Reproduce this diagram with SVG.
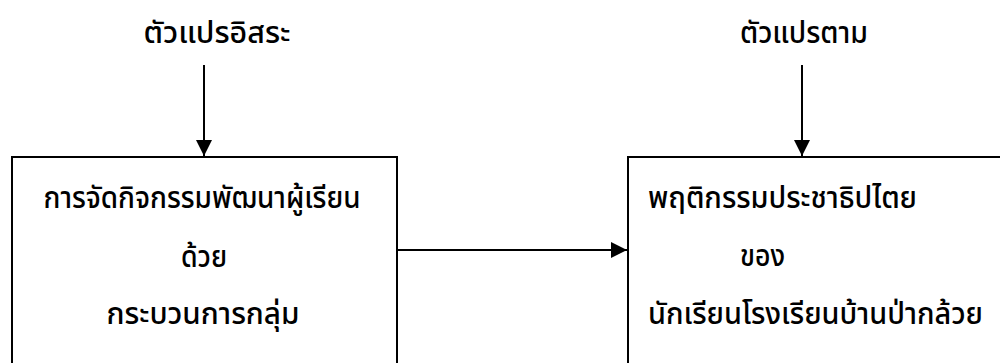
<svg xmlns="http://www.w3.org/2000/svg" width="1000" height="363" viewBox="0 0 1000 363">
<style>
.t{font-family:"Noto Sans Thai","Noto Sans","DejaVu Sans",sans-serif;font-size:30px;font-weight:500;fill:#000}
.box{fill:none;stroke:#000;stroke-width:2}
.con{stroke:#000;stroke-width:2;fill:none}
</style>
<defs>
<marker id="ah" viewBox="0 0 10 10" refX="10" refY="5" markerWidth="8" markerHeight="8" markerUnits="strokeWidth" orient="auto">
<path d="M0,0 L10,5 L0,10 Z" fill="#000"/>
</marker>
</defs>
<rect width="1000" height="363" fill="#fff"/>
<g id="label-independent">
<text class="t" x="217" y="43" text-anchor="middle" textLength="147" lengthAdjust="spacingAndGlyphs">ตัวแปรอิสระ</text>
</g>
<g id="label-dependent">
<text class="t" x="804" y="43" text-anchor="middle" textLength="128" lengthAdjust="spacingAndGlyphs">ตัวแปรตาม</text>
</g>
<g id="node-left">
<rect class="box" x="12" y="157" width="385" height="220"/>
<text class="t" x="202" y="208" text-anchor="middle" textLength="317" lengthAdjust="spacingAndGlyphs">การจัดกิจกรรมพัฒนาผู้เรียน</text>
<text class="t" x="204" y="267" text-anchor="middle" textLength="46" lengthAdjust="spacingAndGlyphs">ด้วย</text>
<text class="t" x="203" y="324" text-anchor="middle" textLength="193" lengthAdjust="spacingAndGlyphs">กระบวนการกลุ่ม</text>
</g>
<g id="node-right">
<path class="box" d="M1001,157 H628 V377"/>
<text class="t" x="648" y="208" textLength="269" lengthAdjust="spacingAndGlyphs">พฤติกรรมประชาธิปไตย</text>
<text class="t" x="740" y="266" textLength="45" lengthAdjust="spacingAndGlyphs">ของ</text>
<text class="t" x="648" y="324" textLength="335" lengthAdjust="spacingAndGlyphs">นักเรียนโรงเรียนบ้านป่ากล้วย</text>
</g>
<g id="connectors">
<line class="con" x1="204" y1="65" x2="204" y2="156" marker-end="url(#ah)"/>
<line class="con" x1="802" y1="65" x2="802" y2="156" marker-end="url(#ah)"/>
<line class="con" x1="398" y1="250" x2="627" y2="250" marker-end="url(#ah)"/>
</g>
</svg>
